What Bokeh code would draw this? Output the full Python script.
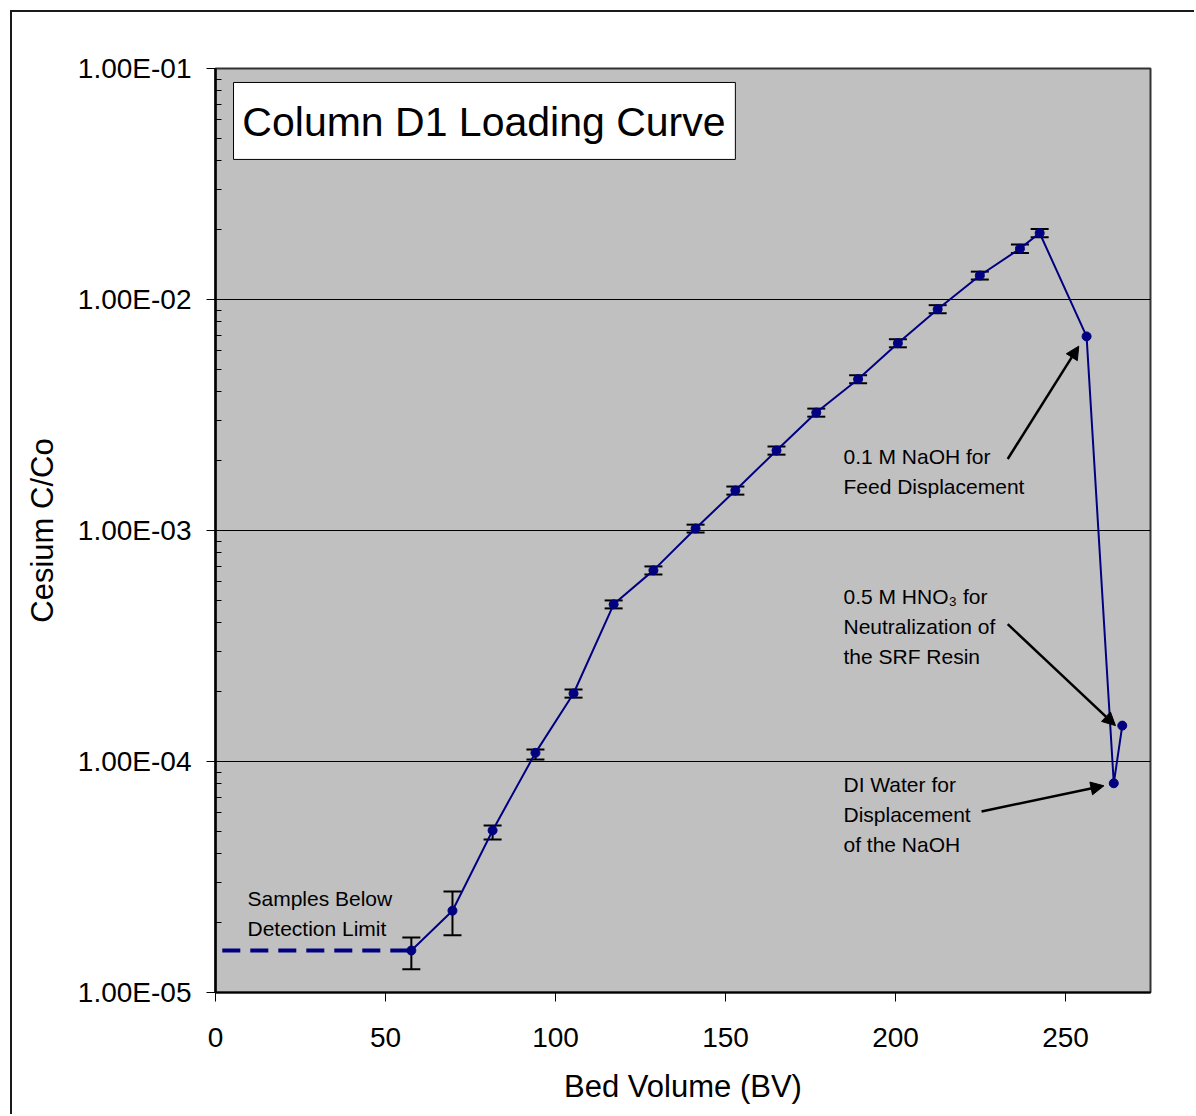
from bokeh.plotting import figure
from bokeh.models import (ColumnDataSource, Whisker, TeeHead, Arrow, NormalHead,
                          FixedTicker, CustomJSTickFormatter, Range1d, InlineStyleSheet)
from bokeh.core.properties import value
from bokeh.embed import file_html
from bokeh.resources import INLINE

# ---------------- data ----------------
bed_volume = [57.6, 69.7, 81.5, 94.1, 105.3, 117.1, 128.8, 141.2, 152.9, 165.0,
              176.7, 189.0, 200.7, 212.4, 224.8, 236.6, 242.4, 256.2, 264.2, 266.7]
cs_ratio = [1.52e-5, 2.26e-5, 5.03e-5, 1.09e-4, 1.97e-4, 4.79e-4, 6.72e-4, 1.02e-3,
            1.49e-3, 2.22e-3, 3.24e-3, 4.52e-3, 6.47e-3, 9.08e-3, 1.27e-2, 1.66e-2,
            1.94e-2, 6.92e-3, 8.05e-5, 1.43e-4]

# error bars (first 17 samples)
err_bv = bed_volume[:17]
err_upper = [1.73e-5, 2.74e-5, 5.28e-5, 1.127e-4, 2.05e-4, 4.98e-4, 6.99e-4, 1.06e-3,
             1.55e-3, 2.31e-3, 3.37e-3, 4.70e-3, 6.73e-3, 9.45e-3, 1.32e-2, 1.73e-2, 2.02e-2]
err_lower = [1.26e-5, 1.77e-5, 4.59e-5, 1.02e-4, 1.89e-4, 4.60e-4, 6.45e-4, 0.98e-3,
             1.43e-3, 2.13e-3, 3.11e-3, 4.34e-3, 6.21e-3, 8.72e-3, 1.22e-2, 1.59e-2, 1.86e-2]

# below-detection-limit dashed segment
detect_bv = [2.0, 57.6]
detect_ratio = [1.52e-5, 1.52e-5]

x_ticks = [0, 50, 100, 150, 200, 250]
y_ticks = [1e-5, 1e-4, 1e-3, 1e-2, 1e-1]
y_minor = [k * d for d in [1e-5, 1e-4, 1e-3, 1e-2] for k in range(2, 10)]

title_text = "Column D1 Loading Curve"
x_label = "Bed Volume (BV)"
y_label = "Cesium C/Co"

# annotation texts (left x, y) in data coordinates
note_lines = ["0.1 M NaOH for", "Feed Displacement",
              "0.5 M HNO\u2083 for", "Neutralization of", "the SRF Resin",
              "DI Water for", "Displacement", "of the NaOH",
              "Samples Below", "Detection Limit"]
note_x = [184.7, 184.7, 184.7, 184.7, 184.7, 184.7, 184.7, 184.7, 9.4, 9.4]
note_y = [2.09e-3, 1.55e-3, 5.18e-4, 3.84e-4, 2.85e-4, 7.95e-5, 5.90e-5, 4.37e-5,
          2.55e-5, 1.89e-5]

# arrows: (x_start, y_start, x_end, y_end)
arrows = [(233.0, 2.04e-3, 253.9, 6.28e-3),
          (233.0, 3.93e-4, 264.7, 1.43e-4),
          (225.3, 6.08e-5, 261.3, 7.85e-5)]

FONT = "Liberation Sans"
NAVY = "#000080"

p = figure(frame_width=935, frame_height=924,
           min_border_left=203, min_border_right=44,
           min_border_top=56, min_border_bottom=122,
           y_axis_type="log", x_range=Range1d(0, 275), y_range=Range1d(1e-5, 1e-1),
           output_backend="svg", toolbar_location=None, tools="")

p.background_fill_color = "#C0C0C0"
p.border_fill_color = "white"
p.outline_line_color = "#333333"
p.outline_line_width = 2
p.stylesheets = [InlineStyleSheet(css=":host { margin: 10px 0 0 10px; "
                                      "border-left: 2px solid #1a1a1a; "
                                      "border-top: 2px solid #1a1a1a; }")]

# grid
p.xgrid.visible = False
p.ygrid.ticker = FixedTicker(ticks=y_ticks)
p.ygrid.grid_line_color = "black"
p.ygrid.grid_line_width = 1

# axes
xa = p.xaxis[0]
xa.ticker = FixedTicker(ticks=x_ticks)
xa.axis_label = x_label
xa.axis_label_text_font = FONT
xa.axis_label_text_font_size = "31px"
xa.axis_label_text_font_style = "normal"
xa.axis_label_text_color = "black"
xa.axis_label_standoff = 19
xa.major_label_text_font = FONT
xa.major_label_text_font_size = "28px"
xa.major_label_text_color = "black"
xa.major_label_standoff = 26
xa.axis_line_color = "black"
xa.axis_line_width = 2
xa.major_tick_in = 0
xa.major_tick_out = 9
xa.major_tick_line_color = "black"
xa.major_tick_line_width = 1
xa.minor_tick_line_color = None

ya = p.yaxis[0]
ya.ticker = FixedTicker(ticks=y_ticks, minor_ticks=y_minor)
ya.formatter = CustomJSTickFormatter(code="""
const e = Math.round(Math.log10(tick));
const m = (tick / Math.pow(10, e)).toFixed(2);
const a = Math.abs(e);
return m + "E" + (e < 0 ? "-" : "+") + (a < 10 ? "0" : "") + a;
""")
ya.axis_label = y_label
ya.axis_label_text_font = FONT
ya.axis_label_text_font_size = "31px"
ya.axis_label_text_font_style = "normal"
ya.axis_label_text_color = "black"
ya.axis_label_standoff = 15
ya.major_label_text_font = FONT
ya.major_label_text_font_size = "28px"
ya.major_label_text_color = "black"
ya.major_label_standoff = 15
ya.axis_line_color = "black"
ya.axis_line_width = 2.5
ya.major_tick_in = 0
ya.major_tick_out = 9
ya.major_tick_line_color = "black"
ya.minor_tick_in = 6
ya.minor_tick_out = 0
ya.minor_tick_line_color = "black"

# title box
p.quad(left=[5.3], right=[152.9], top=[0.0870], bottom=[0.0404],
       fill_color="white", line_color="black", line_width=1)
p.text(x=[7.9], y=[0.0584], text=[title_text], text_font=value(FONT),
       text_font_size="41px", text_baseline="middle", text_align="left",
       text_color="black")

# detection-limit dashed line
p.line(detect_bv, detect_ratio, line_color=NAVY, line_width=4, line_dash="18 10")

# error bars
esrc = ColumnDataSource(dict(x=err_bv, upper=err_upper, lower=err_lower))
wh = Whisker(base="x", upper="upper", lower="lower", source=esrc, dimension="height",
             line_color="black", line_width=2,
             upper_head=TeeHead(size=18, line_color="black", line_width=2),
             lower_head=TeeHead(size=18, line_color="black", line_width=2))
p.add_layout(wh)

# main series
p.line(bed_volume, cs_ratio, line_color=NAVY, line_width=2)
p.scatter(bed_volume, cs_ratio, size=9, fill_color=NAVY, line_color=NAVY)

# notes
p.text(x=note_x, y=note_y, text=note_lines, text_font=value(FONT),
       text_font_size="21px", text_baseline="middle", text_align="left",
       text_color="black")

for xs, ys, xe, ye in arrows:
    p.add_layout(Arrow(x_start=xs, y_start=ys, x_end=xe, y_end=ye,
                       line_color="black", line_width=2.5,
                       end=NormalHead(size=13, fill_color="black", line_color="black")))

open("out.html", "w").write(file_html(p, INLINE))
